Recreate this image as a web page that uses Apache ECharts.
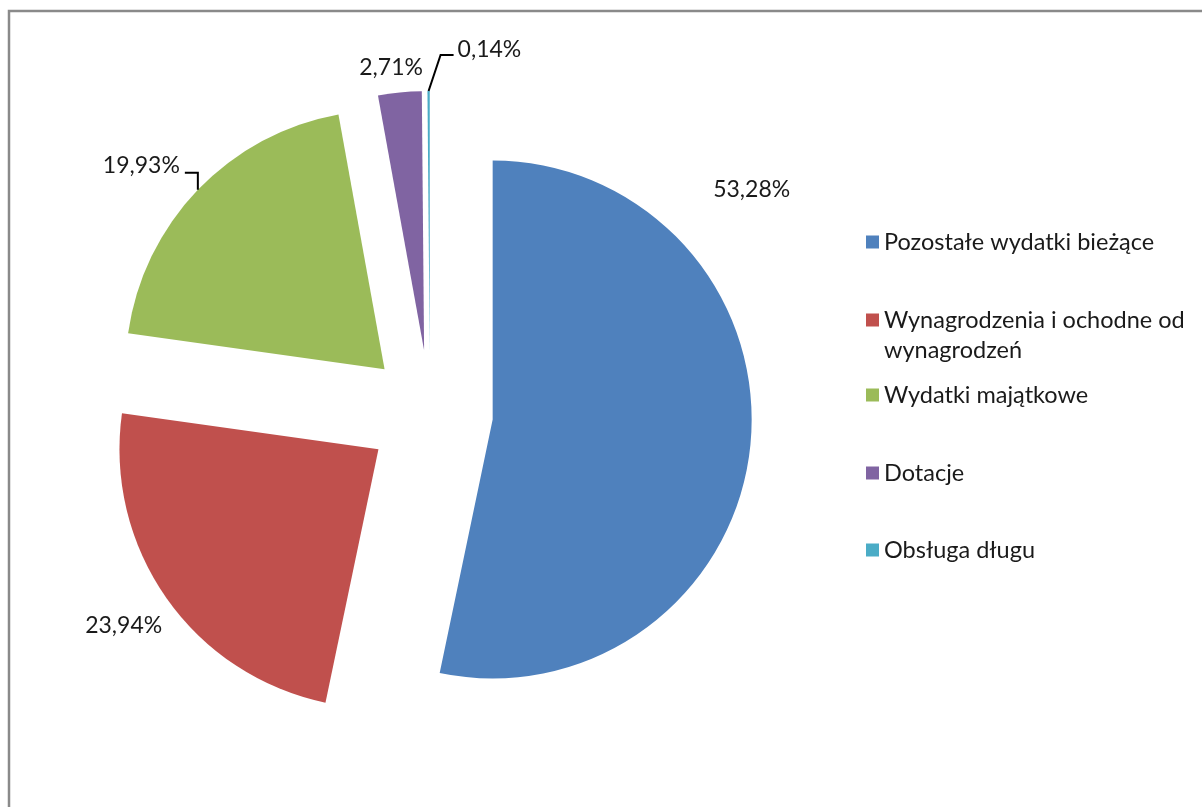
<!DOCTYPE html>
<html lang="pl">
  <head>
    <meta charset="utf-8" />
    <title>Struktura wydatków</title>
    <script src="https://cdn.jsdelivr.net/npm/echarts@6/dist/echarts.min.js"></script>
    <style>
      html, body { margin: 0; padding: 0; background: #ffffff; }
      #chart { width: 1202px; height: 807px; }
    </style>
  </head>
  <body>
    <div id="chart"></div>
    <script>
      // values (share of total spending, %)
      var names = [
        'Pozostałe wydatki bieżące',
        'Wynagrodzenia i ochodne od wynagrodzeń',
        'Wydatki majątkowe',
        'Dotacje',
        'Obsługa długu'
      ]
      var shares = [53.28, 23.94, 19.93, 2.71, 0.14]
      var colors = ['#4F81BD', '#C0504D', '#9BBB59', '#8064A2', '#4BACC6']

      var FONT = 'Lato'
      var CENTER = [430, 413]
      var RADIUS = 259
      var EXPLODE = 63
      // legend rows (box tops) - the second entry wraps onto two lines
      var legendTops = [227, 275, 380, 458, 535]
      // nudges for the labels without a leader line (Excel "best fit" spots)
      var labelShift = { 0: [-72, -259], 1: [27, 16], 3: [40, -5] }

      function pct(v) {
        return v.toFixed(2).replace('.', ',') + '%'
      }

      // offset of an exploded slice, same as ECharts applies for selectedOffset
      var total = shares.reduce(function (a, b) { return a + b }, 0)
      var explodeOffsets = []
      var cum = 0
      shares.forEach(function (v) {
        var mid = (cum + v / 2) / total * Math.PI * 2
        explodeOffsets.push([EXPLODE * Math.sin(mid), -EXPLODE * Math.cos(mid)])
        cum += v
      })

      var chart = echarts.init(document.getElementById('chart'))

      var legends = names.map(function (name, i) {
        return {
          data: [name],
          left: 866,
          top: legendTops[i],
          orient: 'vertical',
          icon: 'rect',
          itemWidth: 13,
          itemHeight: 13,
          itemGap: 0,
          padding: 0,
          selectedMode: false,
          formatter: function (n) {
            // empty first line keeps the marker level with the first text line
            return n.indexOf('od wynagrodzeń') > 0 ? '\n' + n.replace('od wynagrodzeń', 'od\nwynagrodzeń') : n
          },
          textStyle: {
            fontFamily: FONT,
            fontSize: 23.5,
            color: '#1a1a1a',
            lineHeight: 30
          }
        }
      })

      // labels sit on an unexploded copy of the pie, so move them with the slices
      function labelLayout(p) {
        var r = p.labelRect
        var off = explodeOffsets[p.dataIndex]
        var ax = r.x + (p.align === 'right' ? r.width : p.align === 'center' ? r.width / 2 : 0)
        var ay = r.y + (p.verticalAlign === 'middle' ? r.height / 2 : p.verticalAlign === 'bottom' ? r.height : 0)
        var midFix = ay - r.y - r.height / 2
        var pts = p.labelLinePoints
        var a, p2
        if (p.dataIndex === 2 && pts) {
          // up, then left
          a = [pts[0][0] + off[0], pts[0][1] + off[1]]
          p2 = [a[0] - 13, a[1] - 17]
          return {
            x: p2[0] - 5 - (p.align === 'right' ? 0 : r.width),
            y: p2[1] - 7 + midFix,
            labelLinePoints: [a, [a[0], a[1] - 17], p2],
            hideOverlap: false
          }
        }
        if (p.dataIndex === 4 && pts) {
          // slanted up-right, then right
          a = [pts[0][0] + off[0], pts[0][1] + off[1]]
          p2 = [a[0] + 25, a[1] - 36]
          return {
            x: p2[0] + 4 + (p.align === 'right' ? r.width : 0),
            y: p2[1] - 5 + midFix,
            labelLinePoints: [a, [a[0] + 12, a[1] - 36], p2],
            hideOverlap: false
          }
        }
        var s = labelShift[p.dataIndex] || [0, 0]
        return { x: ax + off[0] + s[0], y: ay + off[1] + s[1], hideOverlap: false }
      }

      var pieBase = {
        type: 'pie',
        center: CENTER,
        radius: RADIUS,
        startAngle: 90,
        clockwise: true,
        avoidLabelOverlap: false,
        emphasis: { disabled: true }
      }

      chart.setOption({
        animation: false,
        backgroundColor: '#ffffff',
        graphic: [{
          type: 'rect',
          shape: { x: 9, y: 11, width: 1230, height: 830 },
          style: { fill: 'none', stroke: '#8a8a8a', lineWidth: 2.5 },
          silent: true
        }],
        legend: legends,
        series: [
          echarts.util.extend({
            selectedMode: 'multiple',
            selectedOffset: EXPLODE,
            itemStyle: { borderWidth: 0 },
            label: { show: false },
            labelLine: { show: false },
            data: names.map(function (name, i) {
              return {
                name: name,
                value: shares[i],
                selected: true,
                itemStyle: { color: colors[i] }
              }
            })
          }, pieBase),
          // label layer
          echarts.util.extend({
            silent: true,
            z: 3,
            itemStyle: { color: 'rgba(0,0,0,0)', borderWidth: 0 },
            label: {
              show: true,
              position: 'outside',
              fontFamily: FONT,
              fontSize: 23,
              color: '#1a1a1a',
              formatter: function (p) { return pct(p.value) }
            },
            labelLine: {
              show: false,
              length: 20,
              length2: 10,
              lineStyle: { color: '#000000', width: 2 }
            },
            labelLayout: labelLayout,
            data: names.map(function (name, i) {
              return {
                name: name,
                value: shares[i],
                labelLine: { show: i === 2 || i === 4 }
              }
            })
          }, pieBase)
        ]
      })
    </script>
  </body>
</html>
